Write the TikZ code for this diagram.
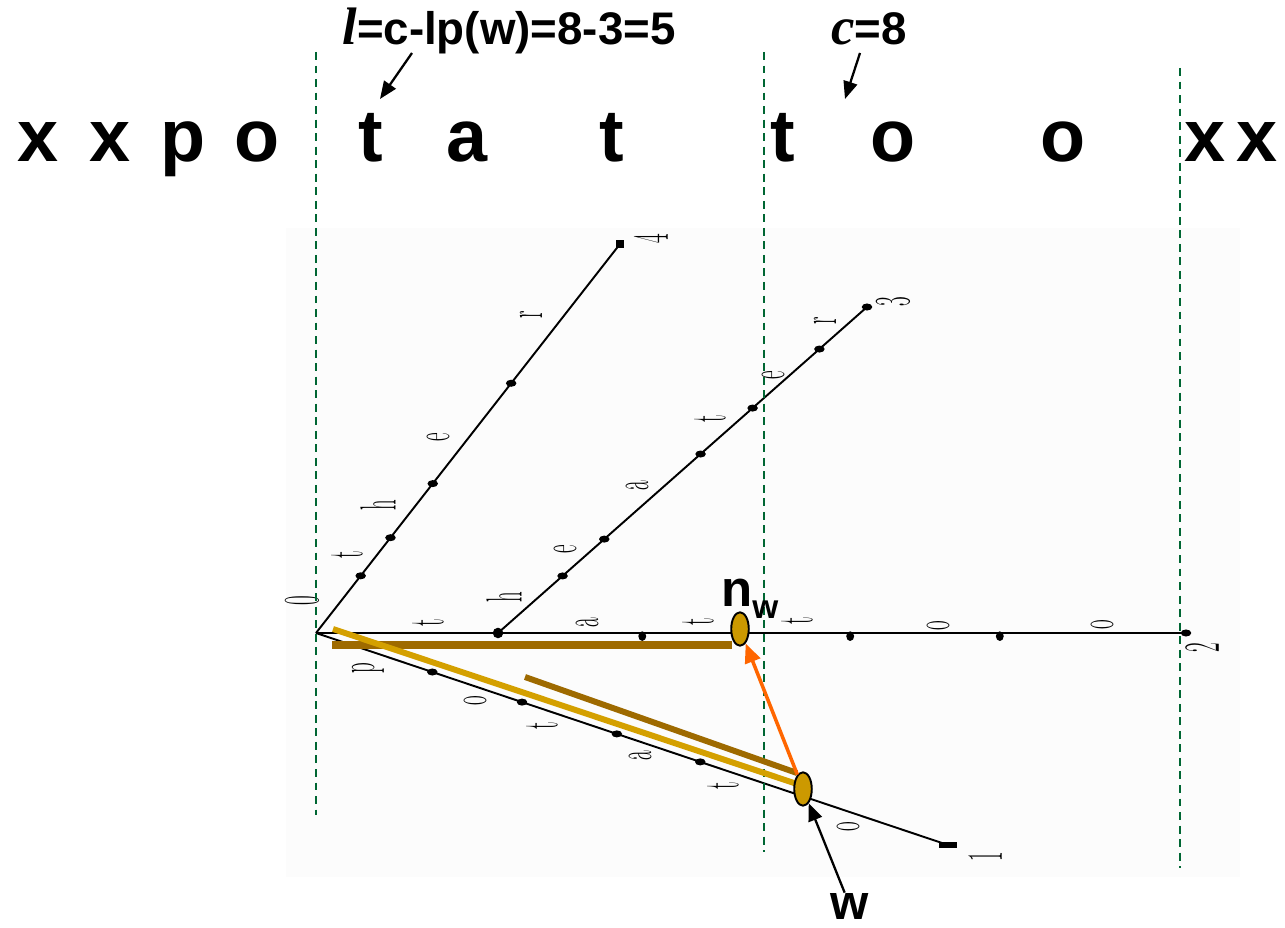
\documentclass[tikz,border=0pt]{standalone}
\usepackage{fontspec}
\usepackage{graphicx}
\newfontfamily\arialf{Liberation Sans}
\newfontfamily\tnrf{Liberation Serif}
\usetikzlibrary{arrows.meta,calc,shapes.geometric}
\definecolor{dgreen}{HTML}{006633}
\definecolor{gold}{HTML}{CC9900}
\definecolor{brownbar}{HTML}{9E6A00}
\definecolor{yellowbar}{HTML}{D4A000}
\definecolor{orangearr}{HTML}{FF6600}
\newcommand{\sq}[1]{\scalebox{0.7}[1.7]{#1}}
\begin{document}
\begin{tikzpicture}[x=0.02cm,y=-0.02cm,
  big/.style={font=\arialf\bfseries\fontsize{42}{42}\selectfont, anchor=base, inner sep=0},
  formula/.style={font=\arialf\bfseries\fontsize{26}{26}\selectfont, anchor=base, inner sep=0},
  lab/.style={rotate=90, inner sep=0, font=\fontsize{17}{17}\selectfont},
  edge/.style={black, line width=1.1pt},
  dot/.style={ellipse, fill=black, inner sep=0, minimum width=6pt, minimum height=4pt},
  guide/.style={dgreen, line width=1.1pt, dash pattern=on 4.5pt off 3.2pt},
  ell/.style={ellipse, draw=black, line width=1.1pt, fill=gold, minimum width=10pt, minimum height=19pt, inner sep=0},
  blackarrow/.style={black, line width=1.3pt, -{Triangle[length=10pt,width=8pt]}},
  orangearrow/.style={orangearr, line width=2pt, -{Triangle[length=11pt,width=9pt]}},
  bar/.style={line width=#1},
]
\useasboundingbox (0,0) rectangle (1285,928);
% faint background of the tree figure
\fill[black!1] (286,228) rectangle (1240,877);

% top row of letters
\foreach \ch/\xx [count=\i] in {x/38, x/110, p/183, o/257, t/371, a/467, t/612, t/783, o/893, o/1063, x/1205, x/1257}
  \node[big] (L\i) at (\xx,162) {\ch};

% formulas
\node[formula] (form) at (509,45) {{\tnrf\itshape\fontsize{30}{30}\selectfont l}=c-lp(w)=8-3=5};
\node[formula] (cnode) at (869,45) {{\tnrf\itshape\fontsize{30}{30}\selectfont c}=8};
\coordinate (a1s) at (412,53);
\coordinate (a1e) at (380,99);
\coordinate (a2s) at (860,53);
\coordinate (a2e) at (845,99);
\draw[blackarrow] (a1s) -- (a1e);
\draw[blackarrow] (a2s) -- (a2e);

% tree
\coordinate (r) at (316,633);
\coordinate (e4) at (620,244);
\coordinate (v3) at (498,633);
\coordinate (e3) at (867,307);
\coordinate (e2) at (1186,633);
\coordinate (e1) at (948,845);
\draw[edge] (r) -- (e4);
\draw[edge] (v3) -- (e3);
\draw[edge] (r) -- (e2);
\draw[edge] (r) -- (e1);

\foreach \t [count=\i] in {0.147,0.245,0.384,0.642}
  \node[dot] (da\i) at ($(r)!\t!(e4)$) {};
\foreach \t [count=\i] in {0.175,0.288,0.549,0.690,0.871}
  \node[dot] (db\i) at ($(v3)!\t!(e3)$) {};
\foreach \t [count=\i] in {0.375,0.614,0.786}
  \node[dot, minimum width=4.5pt, minimum height=5.5pt, yshift=-1.8pt] (dc\i) at ($(r)!\t!(e2)$) {};
\foreach \t [count=\i] in {0.184,0.326,0.476,0.608}
  \node[dot] (dd\i) at ($(r)!\t!(e1)$) {};
\node[dot, minimum width=6pt, minimum height=6pt] (v3d) at (v3) {};
\node[fill=black, inner sep=0, minimum width=5pt, minimum height=4pt] (e4d) at (e4) {};
\node[dot] (e3d) at (e3) {};
\node[dot] (e2d) at (e2) {};
\node[fill=black, inner sep=0, minimum width=10pt, minimum height=3pt] (e1d) at (e1) {};

% rotated edge labels
\node[lab] (l0) at (302,601) {\sq{0}};
\node[lab] (l4t) at (347,555) {\sq{t}};
\node[lab] (l4h) at (378,505) {\sq{h}};
\node[lab] (l4e) at (438,437) {\sq{e}};
\node[lab] (l4r) at (531,315) {\sq{r}};
\node[lab] (l4) at (651,239) {\sq{4}};

\node[lab] (l3h) at (504,597) {\sq{h}};
\node[lab] (l3e) at (565,549) {\sq{e}};
\node[lab] (l3a) at (637,486) {\sq{a}};
\node[lab] (l3t) at (710,419) {\sq{t}};
\node[lab] (l3e2) at (773,375) {\sq{e}};
\node[lab] (l3r) at (825,321) {\sq{r}};
\node[lab] (l3) at (893,302) {\sq{3}};

\node[lab] (l2t) at (428,623) {\sq{t}};
\node[lab] (l2a) at (587,623) {\sq{a}};
\node[lab] (l2t2) at (698,622) {\sq{t}};
\node[lab] (l2t3) at (797,621) {\sq{t}};
\node[lab] (l2o) at (938,626) {\sq{o}};
\node[lab] (l2o2) at (1102,625) {\sq{o}};
\node[lab] (l2) at (1202,648) {\sq{2}};

\node[lab] (l1p) at (368,668) {\sq{p}};
\node[lab] (l1o) at (475,701) {\sq{o}};
\node[lab] (l1t) at (542,726) {\sq{t}};
\node[lab] (l1a) at (640,756) {\sq{a}};
\node[lab] (l1t2) at (723,786) {\sq{t}};
\node[lab] (l1o2) at (848,827) {\sq{o}};
\node[lab] (l1) at (985,857) {\sq{1}};

% green dashed guides
\draw[guide] (316,52) -- (316,815);
\draw[guide] (764,52) -- (764,852);
\draw[guide] (1180,68) -- (1180,868);

% coloured bars
\coordinate (hb1) at (332,645);
\coordinate (hb2) at (732,645);
\coordinate (yb1) at (333,629);
\coordinate (yb2) at (797,784);
\coordinate (bb1) at (525,677);
\coordinate (bb2) at (797,773);
\draw[brownbar, bar=4.3pt] (hb1) -- (hb2);
\draw[yellowbar, bar=3.4pt] (yb1) -- (yb2);
\draw[brownbar, bar=3.4pt] (bb1) -- (bb2);

% ellipses and labels
\node[ell] (nw) at (740,629) {};
\node[ell] (w) at (803,789) {};
\node[formula, anchor=base west, font=\arialf\bfseries\fontsize{29}{29}\selectfont] (nwlab) at (721,607) {n\raisebox{-6.5pt}{\fontsize{19}{19}\selectfont w}};
\node[formula, font=\arialf\bfseries\fontsize{28}{28}\selectfont] (wlab) at (850,919) {w};

\draw[orangearrow] (w) -- (nw);
\draw[blackarrow] (wlab) -- (w);
\end{tikzpicture}
\end{document}
